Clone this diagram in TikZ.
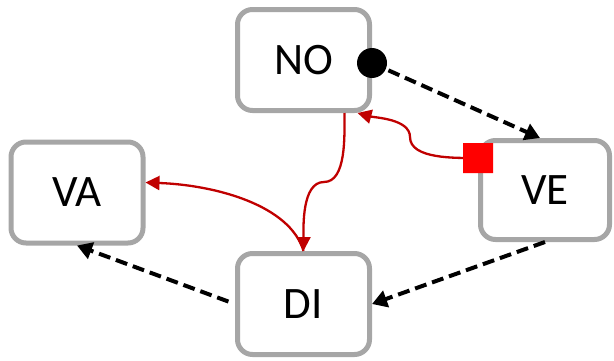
\documentclass[tikz,border=0pt]{standalone}
\usepackage{fontspec}
\setmainfont{Carlito}
\usetikzlibrary{arrows.meta,shapes.misc}
\definecolor{boxgray}{HTML}{A6A6A6}
\definecolor{darkred}{HTML}{C00000}
\definecolor{brightred}{HTML}{FF0000}
\begin{document}
\begin{tikzpicture}[x=1pt,y=1pt,
  statebox/.style={draw=boxgray,line width=5pt,rounded corners=15pt,fill=white,
    minimum width=132pt,minimum height=101pt,inner sep=0pt,font=\fontsize{45}{50}\selectfont},
  dashconn/.style={draw=black,line width=4pt,dash pattern=on 12pt off 6pt,
    -{Triangle[length=15pt,width=17pt]}},
  redconn/.style={draw=darkred,line width=2.3pt,-{Triangle[length=14pt,width=14pt]}},
  blackdot/.style={circle,fill=black,minimum size=30pt,inner sep=0pt},
  redsq/.style={chamfered rectangle,chamfered rectangle xsep=5pt,chamfered rectangle ysep=5pt,
    fill=brightred,minimum width=30pt,minimum height=30pt,inner sep=0pt}
]
\useasboundingbox (0,0) rectangle (614,360);
\node[statebox] (NO) at (303.5,300) {NO};
\node[statebox,minimum width=129pt,minimum height=99pt] (VE) at (545,170) {VE};
\node[statebox] (VA) at (77,167.5) {VA};
\node[statebox] (DI) at (303.5,56) {DI};
% black dashed connectors
\coordinate (dotc) at ([yshift=-3pt]NO.east);
\draw[dashconn] (dotc) -- ([xshift=-5pt]VE.north);
\node[blackdot] (dot) at (dotc) {};
\draw[dashconn] (VE.south) -- (DI.east);
\draw[dashconn,shorten <=7pt] (DI.west) -- (VA.south);
% red connectors
\coordinate (m1) at (324,178);
\draw[redconn] ([xshift=41pt]NO.south) to[out=-90,in=0,looseness=0.8] (m1)
  to[out=180,in=90,looseness=0.8] (DI.north);
\draw[redconn] (DI.north) .. controls (290,155) and (215,175) .. ([yshift=10pt]VA.east);
\coordinate (sqc) at ([yshift=32pt]VE.west);
\coordinate (m2) at (410,223);
\draw[redconn] (sqc) to[out=180,in=-90,looseness=0.8] (m2)
  to[out=90,in=-15,looseness=0.8] ([xshift=54pt]NO.south);
\node[redsq] (sq) at (sqc) {};
\end{tikzpicture}
\end{document}
